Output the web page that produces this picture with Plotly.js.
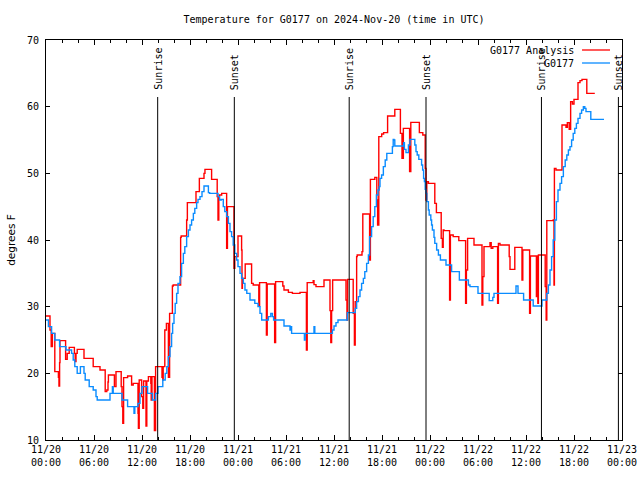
<!DOCTYPE html>
<html>
<head>
<meta charset="utf-8">
<script src="https://cdn.plot.ly/plotly-3.0.1.min.js"></script>
<style>html,body{margin:0;padding:0;background:#fff;}#chart{width:640px;height:480px;}</style>
</head>
<body>
<div id="chart"></div>
<script>
// Hours since 2024-11-20 00:00 UTC and temperature (deg F)
const analysisHours = [
  0, 0.5, 0.65, 0.8, 1.1, 1.55, 1.62, 1.7, 1.75, 2.45,
  2.65, 2.9, 3.55, 3.65, 3.75, 3.9, 4.75, 5.9, 6.75, 7.4,
  7.6, 7.75, 7.8, 8.55, 8.75, 9.4, 9.5, 9.6, 9.7, 10.2,
  10.7, 10.9, 11.5, 11.55, 11.65, 11.95, 12.1, 12.2, 12.5, 12.6,
  12.8, 13.1, 13.15, 13.25, 13.55, 13.7, 14.5, 14.6, 14.65, 14.85,
  15.05, 15.3, 15.45, 15.8, 15.9, 16.83, 16.9, 17.58, 17.67, 18.75,
  19.17, 19.75, 19.87, 20.7, 21.4, 21.5, 21.6, 21.67, 21.96, 22.58,
  22.68, 23.5, 23.6, 24.0, 24.45, 24.5, 24.55, 24.9, 25.7, 25.9,
  26.6, 26.7, 27.55, 27.65, 28.58, 28.7, 29.6, 29.75, 30.3, 30.8,
  31.75, 32.55, 32.65, 33.4, 33.5, 33.75, 34.75, 35.5, 35.6, 35.7,
  35.83, 37.5, 37.62, 37.7, 38.4, 38.55, 38.65, 38.83, 38.9, 39.5,
  39.6, 40.45, 40.55, 41.1, 41.35, 41.45, 41.6, 41.96, 42.2, 42.7,
  43.6, 44.3, 44.5, 44.67, 45.45, 45.6, 46.67, 47.1, 47.4, 47.5,
  47.6, 47.8, 48.6, 48.8, 49.4, 49.55, 49.65, 49.75, 50.45, 50.55,
  50.9, 51.6, 52.45, 52.55, 52.7, 53.5, 54.5, 54.6, 54.75, 55.5,
  55.65, 55.85, 56.45, 56.55, 56.75, 57.9, 58.0, 58.6, 59.5, 59.6,
  60.45, 60.55, 61.3, 61.38, 61.48, 61.55, 62.4, 62.52, 62.6, 63.4,
  63.5, 63.55, 63.75, 64.5, 65.0, 65.17, 65.4, 65.58, 65.8, 66.0,
  66.5, 66.75, 67.0, 67.6, 68.6
];
const analysisTemps = [
  28.6, 26.5, 24, 26, 20.25, 19.4, 18.1, 21.6, 24.9, 22.1,
  23, 23.9, 23, 21.75, 23, 23.6, 22.25, 21, 20.5, 17.25,
  17.5, 18.7, 19.75, 18, 20.25, 18, 15, 12.5, 19.35, 19.6,
  18.25, 18.5, 14, 11.75, 19, 16.5, 14.75, 18.85, 12.1, 18.85,
  19.5, 18.5, 16, 19.5, 11.4, 21, 19.4, 19, 21, 26.5,
  27.5, 19.4, 29, 33.1, 33.25, 40.4, 40.6, 43, 45.6, 47.25,
  49.25, 50, 50.6, 49.1, 46.5, 43, 46.5, 46.75, 47, 38.75,
  45, 35.75, 37.5, 40.6, 38.5, 32.75, 34.25, 36.4, 33.5, 33.25,
  30.1, 33.6, 25.75, 33.4, 24.6, 33.75, 33.1, 32.5, 32.15, 32,
  32.15, 23.5, 33.6, 33.9, 33.3, 33, 34, 29.4, 24.6, 29.4,
  34, 31, 28, 34.1, 29, 24.25, 30.75, 37.5, 37.75, 38.25,
  43.9, 37, 49.1, 49.4, 46, 42.25, 55.5, 55.9, 56.1, 58.6,
  59.6, 56, 52.25, 56.75, 50.25, 57.65, 56.1, 55.75, 50.75, 46,
  48.75, 48.5, 45.5, 44.1, 40.25, 38.9, 41.5, 41.4, 31, 40.75,
  40.5, 39.9, 30.5, 35.5, 40.25, 39.25, 30.25, 34.5, 39, 39.6,
  38.75, 39, 30.5, 39.5, 39.25, 37.5, 35.6, 38.9, 34, 38.5,
  29, 37.6, 31.5, 37.6, 30.5, 37.75, 33, 28, 42.9, 43,
  33.25, 50.75, 50.5, 57.25, 56.9, 57.6, 56.6, 60.75, 60.4, 61.1,
  63.6, 63.9, 64.1, 62, 62
];

const stationHours = [
  0, 0.3, 0.7, 1.1, 1.7, 2.5, 3.2, 3.4, 3.6, 3.9,
  4.3, 4.75, 4.9, 5.4, 5.9, 6.25, 6.4, 8.0, 8.3, 8.4,
  9.5, 10.2, 11.0, 11.1, 11.5, 11.75, 12.0, 12.7, 13.3, 13.7,
  14.0, 14.6, 14.9, 15.1, 15.3, 15.5, 15.7, 15.83, 16.0, 16.15,
  16.33, 16.5, 16.75, 16.95, 17.17, 17.35, 17.58, 17.8, 18.0, 18.2,
  18.42, 18.6, 18.83, 19.0, 19.25, 19.5, 19.75, 20.3, 20.45, 21.5,
  21.7, 21.9, 22.16, 22.35, 22.58, 22.8, 23.0, 23.2, 23.4, 23.6,
  23.83, 24.0, 24.25, 24.45, 24.67, 24.87, 25.1, 25.5, 26.1, 26.5,
  26.75, 26.96, 27.8, 28.1, 28.3, 28.45, 29.75, 30.5, 30.6, 30.7,
  32.3, 32.4, 33.5, 33.6, 35.8, 36.0, 36.25, 36.5, 37.67, 38.65,
  38.83, 39.05, 39.25, 39.45, 39.67, 39.85, 40.08, 40.3, 40.45, 40.7,
  40.9, 41.1, 41.3, 41.5, 41.65, 41.75, 41.95, 42.17, 42.4, 42.6,
  43.3, 43.4, 43.5, 43.6, 44.7, 44.8, 45.0, 45.3, 45.5, 46.1,
  46.25, 46.4, 46.6, 46.95, 47.08, 47.2, 47.3, 47.4, 47.5, 47.6,
  47.8, 47.9, 48.1, 48.2, 48.3, 48.5, 48.6, 48.83, 49.05, 49.3,
  50.0, 50.7, 51.67, 52.8, 53.0, 54.0, 55.4, 55.85, 56.0, 58.75,
  59.0, 59.7, 60.9, 62.0, 62.6, 62.8, 63.0, 63.2, 63.4, 63.6,
  63.8, 64.0, 64.25, 64.45, 64.67, 64.9, 65.1, 65.3, 65.5, 65.7,
  65.9, 66.1, 66.3, 66.5, 66.75, 66.95, 67.17, 67.35, 67.5, 68.1,
  69.75
];
const stationTemps = [
  28, 27, 26, 25, 24, 23.5, 23, 22, 21, 20,
  21, 20, 19, 18, 17.5, 16.5, 16, 17, 18, 17,
  16, 15, 14, 15, 15.5, 17, 18, 17, 16, 17,
  18, 19, 20, 21, 22.5, 24, 26, 27.5, 29, 30.5,
  32, 33.5, 34.5, 36.5, 38, 39, 40.5, 41.5, 42.25, 43,
  44, 44.75, 45.6, 46.1, 46.5, 47.25, 48.1, 47.1, 47, 46.5,
  46, 46.1, 45, 44.25, 43.5, 42.5, 41.25, 40.5, 39.25, 38,
  37, 36, 35, 34.25, 33.5, 32.5, 32, 31, 30.5, 30,
  29, 28, 28.5, 29, 28.5, 28, 27.1, 26.5, 27, 26,
  25, 26, 27, 26, 26.5, 27.1, 27.6, 28, 29.1, 29.75,
  30.75, 31.5, 32.5, 33.5, 34.25, 35.25, 36.5, 37.75, 40.5, 42,
  43.5, 45, 46.75, 47.5, 48, 49.25, 49.75, 51, 52, 53,
  54, 55.1, 55, 54.1, 54.6, 53.6, 53.1, 54.25, 55.1, 54.25,
  53.25, 52.75, 52.1, 51.25, 50.5, 49.25, 48.75, 47.6, 47, 45.75,
  44.5, 43.75, 43, 42.25, 41.5, 40.4, 39.5, 38.5, 37.75, 37,
  36.25, 35.25, 34, 33.25, 33, 32, 30.9, 31.4, 32, 33.1,
  32, 31, 30.1, 31, 32, 33.25, 35.5, 37.5, 40, 43,
  45.75, 47.5, 48.5, 49.5, 51, 52, 52.75, 53.5, 54, 55,
  56, 56.75, 57.5, 58.25, 59, 59.5, 60, 59.75, 59.25, 58.1,
  58.1
];

const sunHours = [13.96, 23.54, 37.9, 47.5, 61.93, 71.55];
const sunLabels = ['Sunrise', 'Sunset', 'Sunrise', 'Sunset', 'Sunrise', 'Sunset'];

const seriesNames = ['G0177 Analysis', 'G0177'];
const seriesColors = ['#ff0000', '#0a8cff'];

const T0 = Date.UTC(2024, 10, 20, 0, 0, 0);
function toDate(h) {
  const d = new Date(T0 + Math.round(h * 3600) * 1000);
  return d.toISOString().slice(0, 19).replace('T', ' ');
}

const MONO = 'DejaVu Sans Mono, monospace';

const traces = [
  {
    x: analysisHours.map(toDate), y: analysisTemps, name: seriesNames[0],
    type: 'scatter', mode: 'lines', line: {color: seriesColors[0], width: 1.4, shape: 'hv'}
  },
  {
    x: stationHours.map(toDate), y: stationTemps, name: seriesNames[1],
    type: 'scatter', mode: 'lines', line: {color: seriesColors[1], width: 1.4, shape: 'hv'}
  }
];

const shapes = [];
const annotations = [];
sunHours.forEach((h, i) => {
  shapes.push({type: 'line', xref: 'x', yref: 'paper', x0: toDate(h), x1: toDate(h), y0: 0, y1: 0.8575,
    line: {color: 'black', width: 1}});
  annotations.push({xref: 'x', yref: 'paper', x: toDate(h), y: 0.87, text: sunLabels[i], textangle: -90,
    showarrow: false, xanchor: 'center', yanchor: 'bottom', font: {family: MONO, size: 10, color: 'black'}});
});

// manual legend (text left of line sample)
const legendY = [0.975, 0.9425];
seriesNames.forEach((n, i) => {
  annotations.push({xref: 'paper', yref: 'paper', x: 0.92, y: legendY[i], text: n, showarrow: false,
    xanchor: 'right', yanchor: 'middle', font: {family: MONO, size: 10, color: 'black'}});
  shapes.push({type: 'line', xref: 'paper', yref: 'paper', x0: 0.9306, x1: 0.9792, y0: legendY[i], y1: legendY[i],
    line: {color: seriesColors[i], width: 1.3}});
});

const layout = {
  width: 640, height: 480,
  margin: {l: 46, r: 18, t: 40, b: 40},
  paper_bgcolor: 'white', plot_bgcolor: 'white',
  showlegend: false,
  title: {text: 'Temperature for G0177 on 2024-Nov-20 (time in UTC)',
    font: {family: MONO, size: 10, color: 'black'},
    x: 0.5, xref: 'paper', y: 1 - 19 / 480, yref: 'container', yanchor: 'middle'},
  xaxis: {
    type: 'date', range: [toDate(0), toDate(72)], tick0: toDate(0), dtick: 6 * 3600000,
    tickformat: '%m/%d<br>%H:%M', ticks: 'inside', ticklen: 5, tickcolor: 'black',
    showline: true, linecolor: 'black', linewidth: 1, mirror: 'ticks',
    showgrid: false, zeroline: false,
    tickfont: {family: MONO, size: 10, color: 'black'},
    minor: {dtick: 2 * 3600000, ticks: 'inside', ticklen: 3, tickcolor: 'black', showgrid: false}
  },
  yaxis: {
    range: [10, 70], dtick: 10, ticks: 'inside', ticklen: 4, tickcolor: 'black',
    showline: true, linecolor: 'black', linewidth: 1, mirror: 'ticks',
    showgrid: false, zeroline: false,
    tickfont: {family: MONO, size: 10, color: 'black'},
    ticklabelstandoff: 4,
    title: {text: 'degrees F', font: {family: 'DejaVu Sans, sans-serif', size: 10.5, color: 'black'}, standoff: 9}
  },
  shapes: shapes,
  annotations: annotations
};

Plotly.newPlot('chart', traces, layout, {staticPlot: true, displayModeBar: false});
</script>
</body>
</html>
